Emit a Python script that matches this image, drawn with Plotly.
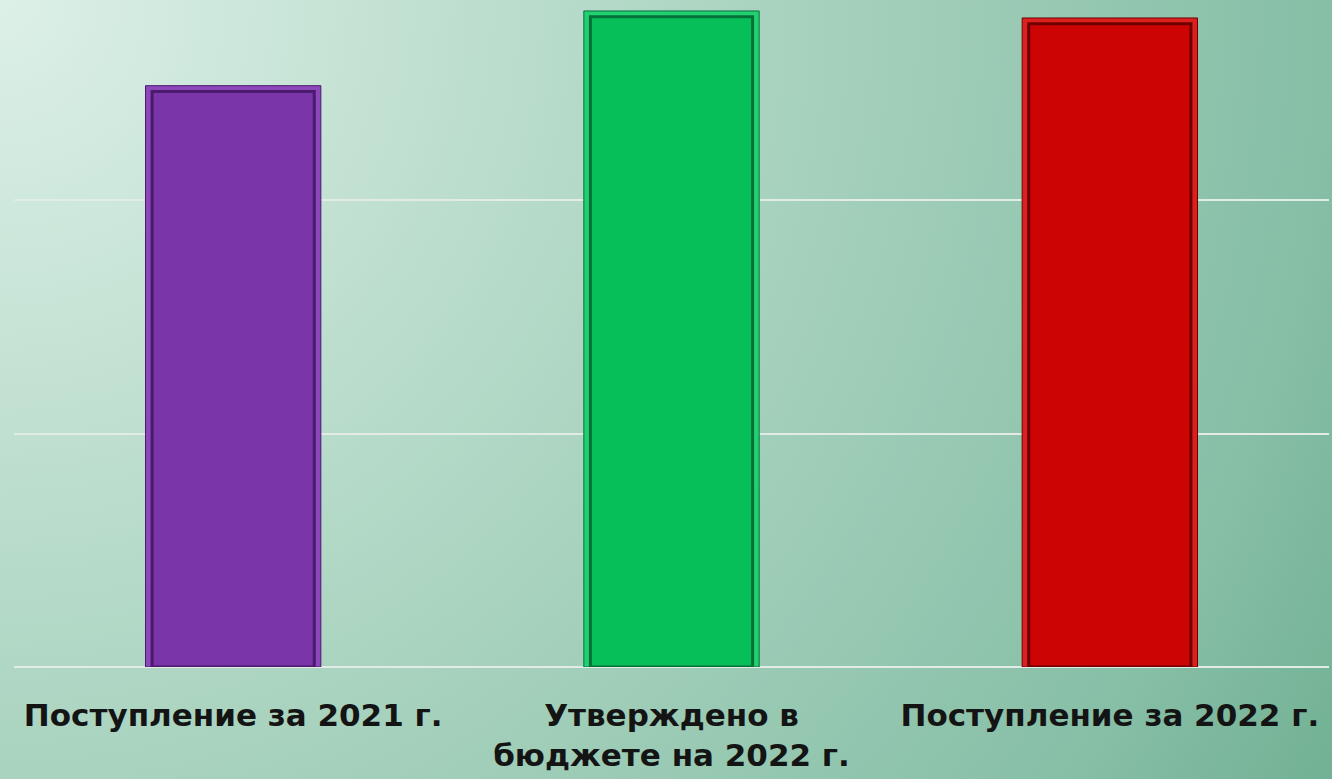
import base64
import plotly.graph_objects as go

categories = ["Поступление за 2021 г.", "Утверждено в<br>бюджете на 2022 г.", "Поступление за 2022 г."]
values = [249, 281, 278]
bar_colors = ["#7a35a8", "#06bf58", "#cc0404"]
edge_colors = ["#4a1a6c", "#03703a", "#6e0000"]
light_colors = ["#8c48bb", "#22d070", "#dc2020"]
y_max = 285.7
grid_step = 100

W, H = 1332, 779
svg = f'''<svg xmlns="http://www.w3.org/2000/svg" width="{W}" height="{H}" viewBox="0 0 {W} {H}" preserveAspectRatio="none">
<defs><radialGradient id="g" gradientUnits="userSpaceOnUse" cx="0" cy="0" r="1543">
<stop offset="0" stop-color="#ddf0e8"/>
<stop offset="0.5" stop-color="#a9d3bf"/>
<stop offset="0.86" stop-color="#86bea6"/>
<stop offset="1" stop-color="#72b193"/>
</radialGradient></defs>
<rect width="{W}" height="{H}" fill="url(#g)"/></svg>'''
src = "data:image/svg+xml;base64," + base64.b64encode(svg.encode()).decode()

ml, mr, mt, mb = 14, 3, 0, 112
pw, ph = W - ml - mr, H - mt - mb

fig = go.Figure()
fig.add_trace(go.Bar(
    x=categories, y=values, width=0.40,
    marker=dict(color=light_colors, line=dict(color=edge_colors, width=1)),
    hoverinfo="skip", showlegend=False,
))
fig.add_trace(go.Bar(
    x=categories, y=[v - 2.5 for v in values], width=0.37,
    marker=dict(color=bar_colors, line=dict(color=edge_colors, width=3)),
    hoverinfo="skip", showlegend=False,
))

fig.update_layout(
    width=W, height=H,
    margin=dict(l=ml, r=mr, t=mt, b=mb),
    barmode="overlay",
    paper_bgcolor="#a9d3bf",
    plot_bgcolor="rgba(0,0,0,0)",
    images=[dict(source=src, xref="paper", yref="paper",
                 x=-ml / pw, y=1 + mt / ph, sizex=W / pw, sizey=H / ph,
                 xanchor="left", yanchor="top", sizing="stretch", layer="below")],
    xaxis=dict(showgrid=False, showline=False, ticks="",
               tickfont=dict(family="DejaVu Sans", size=31, color="#141414", weight="bold"),
               ticklabelstandoff=27),
    yaxis=dict(range=[0, y_max], dtick=grid_step, showticklabels=False,
               showgrid=True, gridcolor="#e2ebe6", gridwidth=2,
               zeroline=True, zerolinecolor="#e2ebe6", zerolinewidth=2,
               showline=False, ticks=""),
    font=dict(family="DejaVu Sans"),
)
fig.write_html("out.html", config={"displayModeBar": False},
               post_script="document.body.style.margin='0';document.body.style.overflow='hidden';")
